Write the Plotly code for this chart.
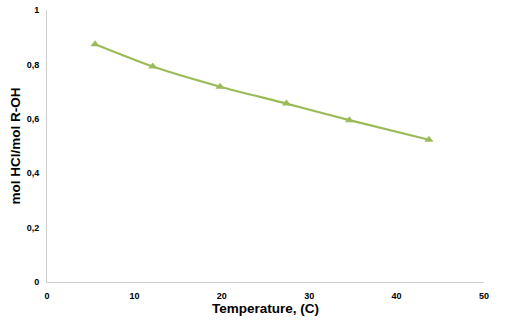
import plotly.graph_objects as go

temperature = [5.5, 12.1, 19.8, 27.4, 34.6, 43.7]
ratio = [0.874, 0.792, 0.718, 0.656, 0.595, 0.523]

x_ticks = [0, 10, 20, 30, 40, 50]
y_ticks = [0, 0.2, 0.4, 0.6, 0.8, 1.0]
y_tick_labels = ["0", "0,2", "0,4", "0,6", "0,8", "1"]

FONT = "Liberation Sans, Arial, sans-serif"

fig = go.Figure()
fig.add_trace(go.Scatter(
    x=temperature, y=ratio, mode="lines+markers",
    line=dict(color="#9BBB59", width=2.2, shape="spline", smoothing=0.6),
    marker=dict(symbol="triangle-up", size=8, color="#9BBB59"),
    showlegend=False,
))

fig.update_layout(
    width=507, height=326,
    margin=dict(l=47, r=23, t=10, b=44, autoexpand=False),
    paper_bgcolor="white", plot_bgcolor="white",
    font=dict(family=FONT, color="#000000"),
)
fig.update_xaxes(
    range=[0, 50], tickvals=x_ticks, ticktext=[str(v) for v in x_ticks],
    showgrid=False, zeroline=False, showline=True, linecolor="#d0d0d0", linewidth=1,
    ticks="", ticklabelstandoff=5, automargin=False,
    tickfont=dict(size=9, family=FONT, weight="bold"),
    title=dict(text="<b>Temperature, (C)</b>", font=dict(size=13.5), standoff=2),
)
fig.update_yaxes(
    range=[0, 1], tickvals=y_ticks, ticktext=y_tick_labels,
    showgrid=False, zeroline=False, showline=True, linecolor="#d0d0d0", linewidth=1,
    ticks="", ticklabelstandoff=5, automargin=False,
    tickfont=dict(size=9, family=FONT, weight="bold"),
    title=dict(text="<b>mol HCl/mol R-OH</b>", font=dict(size=13.5), standoff=2),
)

fig.write_html("out.html")
